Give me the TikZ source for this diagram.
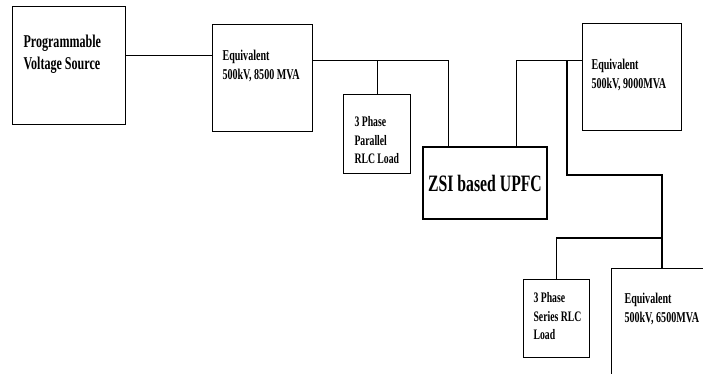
\documentclass[tikz,border=0pt]{standalone}
\usepackage{fontspec}
\setmainfont{Liberation Serif}[FakeStretch=0.67]
\begin{document}
\begin{tikzpicture}[x=1pt, y=-1pt, line width=1.1pt]
	\tikzset{blk/.style={draw, rectangle, inner sep=0pt, anchor=north west},
		lbl/.style n args={2}{anchor=north west, inner sep=0pt, align=left, font=\bfseries\fontsize{#1}{#2}\selectfont}}
	\useasboundingbox (0,0) rectangle (703,374);
	\clip (0,0) rectangle (703,374);
	\node[blk, minimum width=113pt, minimum height=118pt] (pvs) at (12,6) {};
	\node[blk, minimum width=100pt, minimum height=107pt] (eq1) at (212,24) {};
	\node[blk, minimum width=67pt, minimum height=79pt] (prl) at (343,94) {};
	\node[blk, minimum width=124pt, minimum height=72pt, anchor=center, font=\bfseries\fontsize{23.5}{28}\selectfont] (zsi) at (485,183) {ZSI based UPFC};
	\node[blk, minimum width=99pt, minimum height=107pt] (eq2) at (582,23) {};
	\node[blk, minimum width=66pt, minimum height=78pt] (srl) at (523,279) {};
	\node[blk, minimum width=110pt, minimum height=120pt] (eq3) at (611,268) {};
	\node[lbl={18}{22.5}] (pvst) at ([shift={(11,28)}]pvs.north west) {Programmable\\Voltage Source};
	\node[lbl={15}{19}] (eq1t) at ([shift={(10,26)}]eq1.north west) {Equivalent\\500kV, 8500 MVA};
	\node[lbl={14.5}{18.5}] (prlt) at ([shift={(11,22)}]prl.north west) {3 Phase\\Parallel\\RLC Load};
	\node[lbl={15}{19}] (eq2t) at ([shift={(9,36)}]eq2.north west) {Equivalent\\500kV, 9000MVA};
	\node[lbl={14.5}{18.5}] (srlt) at ([shift={(10,13)}]srl.north west) {3 Phase\\Series RLC\\Load};
	\node[lbl={15}{19}] (eq3t) at ([shift={(13,25)}]eq3.north west) {Equivalent\\500kV, 6500MVA};
	\draw ([yshift=10pt]pvs.east) coordinate (a) -- (a -| eq1.west);
	\draw ([yshift=17.5pt]eq1.east) coordinate (b) -| ([xshift=26pt]zsi.north west);
	\draw (b -| prl.north) -- (prl.north);
	\draw ([xshift=-31pt]zsi.north east) |- ([yshift=16.5pt]eq2.west) coordinate (c);
	\coordinate (d) at ([xshift=51pt]eq3.north west);
	\draw ([xshift=-15pt]c) |- ([yshift=93pt]d) -- (d);
	\draw ([yshift=30pt]d) -| (srl.north);
\end{tikzpicture}
\end{document}
